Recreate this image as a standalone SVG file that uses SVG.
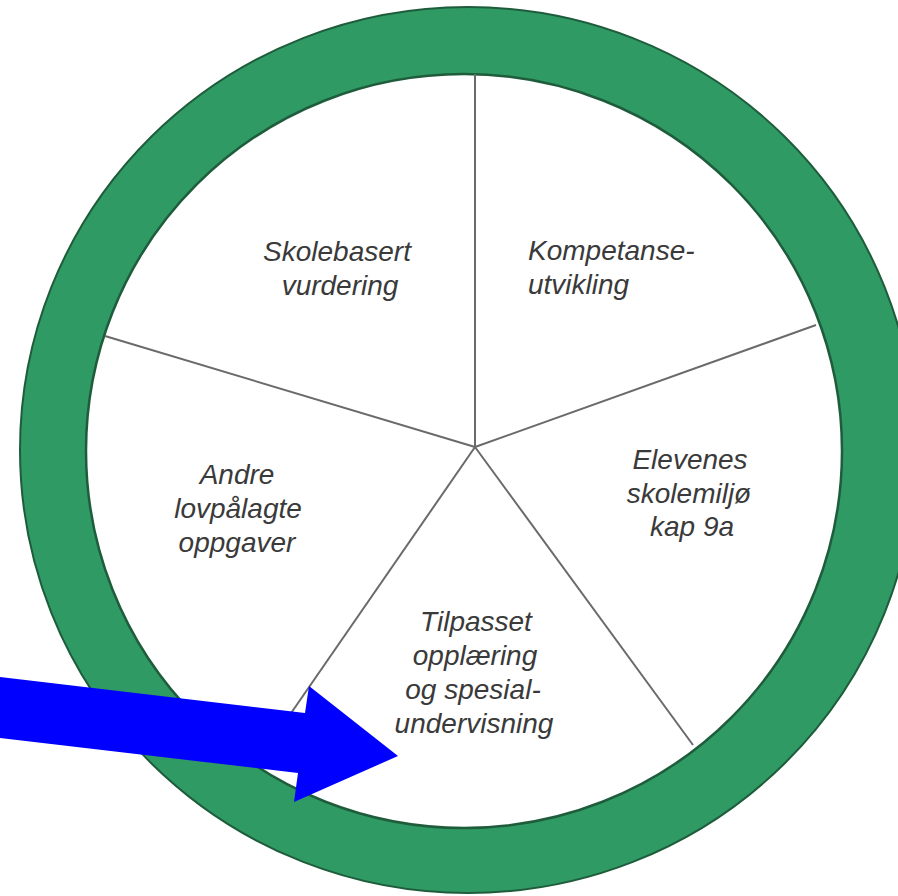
<svg xmlns="http://www.w3.org/2000/svg" width="898" height="896" viewBox="0 0 898 896">
  <style>
    .lbl { font-family: "Liberation Sans", Arial, sans-serif; font-style: italic; font-size: 28px; fill: #3a3a3a; }
    .mid { text-anchor: middle; }
    .spoke { stroke: #6a6a6a; stroke-width: 2; fill: none; }
  </style>
  <rect x="0" y="0" width="898" height="896" fill="#ffffff"/>
  <g id="ring">
    <ellipse cx="468" cy="450" rx="448" ry="443" fill="#2f9a63" stroke="#1e5c3b" stroke-width="2"/>
    <ellipse cx="464" cy="451" rx="378" ry="377" fill="#ffffff" stroke="#1e5c3b" stroke-width="2.5"/>
  </g>
  <g id="connectors">
    <line class="spoke" x1="475" y1="447" x2="475" y2="74"/>
    <line class="spoke" x1="475" y1="447" x2="816" y2="325"/>
    <line class="spoke" x1="475" y1="447" x2="105" y2="336"/>
    <line class="spoke" x1="475" y1="447" x2="693" y2="745"/>
    <line class="spoke" x1="475" y1="447" x2="278" y2="732"/>
  </g>
  <g id="node-skolebasert">
    <text class="lbl mid" x="337" y="261">Skolebasert</text>
    <text class="lbl mid" x="340" y="295">vurdering</text>
  </g>
  <g id="node-kompetanse">
    <text class="lbl" x="528" y="260">Kompetanse-</text>
    <text class="lbl" x="528" y="294">utvikling</text>
  </g>
  <g id="node-elevenes">
    <text class="lbl mid" x="690" y="469">Elevenes</text>
    <text class="lbl mid" x="689" y="503">skolemiljø</text>
    <text class="lbl mid" x="692" y="536">kap 9a</text>
  </g>
  <g id="node-tilpasset">
    <text class="lbl mid" x="476" y="631">Tilpasset</text>
    <text class="lbl mid" x="475" y="665">opplæring</text>
    <text class="lbl mid" x="473" y="699">og spesial-</text>
    <text class="lbl mid" x="474" y="733">undervisning</text>
  </g>
  <g id="node-andre">
    <text class="lbl mid" x="237" y="484">Andre</text>
    <text class="lbl mid" x="238" y="518">lovpålagte</text>
    <text class="lbl mid" x="237" y="552">oppgaver</text>
  </g>
  <g id="arrow">
    <polygon points="0,677 305,713 309,686 398,756 294,802 298,773 0,738" fill="#0000ff"/>
  </g>
</svg>
